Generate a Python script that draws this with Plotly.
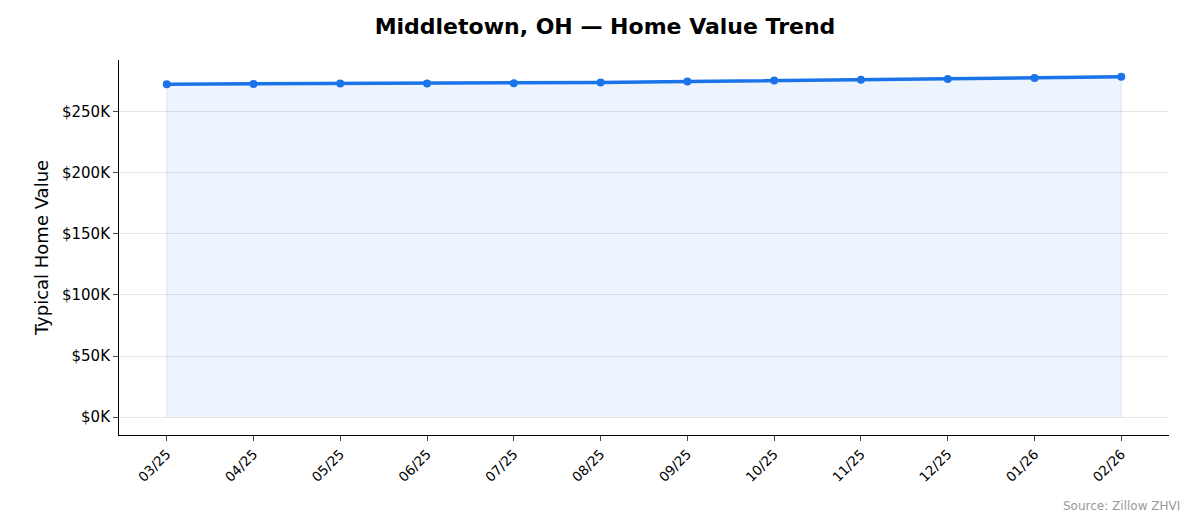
import plotly.graph_objects as go

months = ["03/25","04/25","05/25","06/25","07/25","08/25","09/25","10/25","11/25","12/25","01/26","02/26"]
values = [272800, 273000, 273300, 273400, 273600, 274200, 275000, 275800, 276400, 277000, 277800, 278800]
tick_vals = [0, 50000, 100000, 150000, 200000, 250000]
tick_text = ["$0K","$50K","$100K","$150K","$200K","$250K"]

x = list(range(len(months)))
fig = go.Figure()
fig.add_trace(go.Scatter(x=x, y=values, mode="lines+markers", fill="tozeroy",
    fillcolor="rgba(26,115,232,0.08)", line=dict(color="#1a73e8", width=3.5),
    marker=dict(size=8, color="#1a73e8")))
fig.add_trace(go.Scatter(x=[x[0], x[0]], y=[0, values[0]], mode="lines",
    line=dict(color="rgba(26,115,232,0.12)", width=1), hoverinfo="skip"))
fig.add_trace(go.Scatter(x=[x[-1], x[-1]], y=[0, values[-1]], mode="lines",
    line=dict(color="rgba(26,115,232,0.12)", width=1), hoverinfo="skip"))
fig.update_layout(
    width=1194, height=529, showlegend=False,
    paper_bgcolor="white", plot_bgcolor="white",
    margin=dict(l=111, r=33, t=52, b=102),
    font=dict(family="DejaVu Sans", color="black"),
    title=dict(text="<b>Middletown, OH — Home Value Trend</b>", x=0.5, xanchor="center",
               y=0.965, yanchor="middle", font=dict(size=22)),
    xaxis=dict(range=[-0.55, 11.55], tickvals=x, ticktext=months, tickangle=-45,
               showgrid=False, showline=True, linecolor="black", ticks="outside",
               ticklen=5, tickfont=dict(size=13.5), zeroline=False),
    yaxis=dict(range=[-14750, 292600], tickvals=tick_vals, ticktext=tick_text,
               showgrid=True, gridcolor="rgba(0,0,0,0.1)", showline=True, linecolor="black",
               ticks="outside", ticklen=5, tickfont=dict(size=15), zeroline=False,
               title=dict(text="Typical Home Value", font=dict(size=18), standoff=8)),
    annotations=[dict(text="Source: Zillow ZHVI", xref="paper", yref="paper", x=1.012, y=-0.19,
                      xanchor="right", yanchor="middle", showarrow=False,
                      font=dict(size=12, color="#999999"))],
)
fig.write_html("out.html")
